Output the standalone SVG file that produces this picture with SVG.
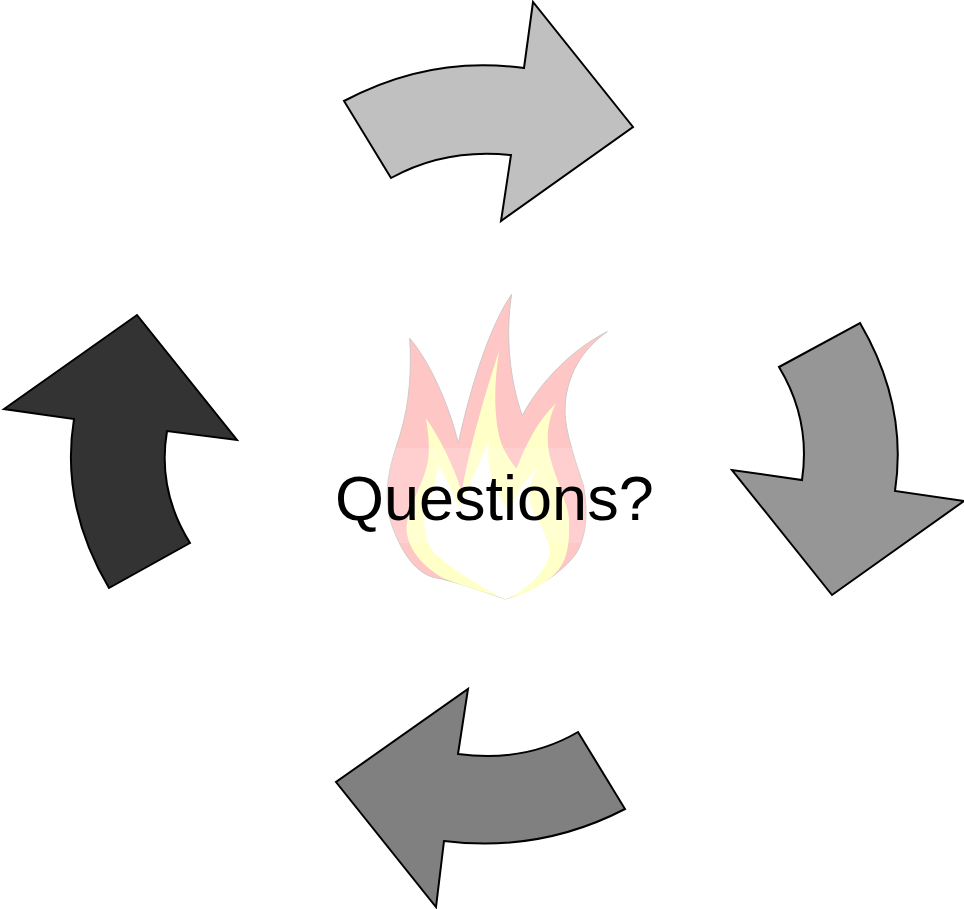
<svg xmlns="http://www.w3.org/2000/svg" width="964" height="909" viewBox="0 0 964 909">
<style>
.arrow{stroke:#000;stroke-width:2;stroke-linejoin:miter}
.label{font-family:"Liberation Sans",Arial,sans-serif;font-size:63px;fill:#000}
</style>
<rect width="964" height="909" fill="#fff"/>
<g id="flame">
<g transform="translate(370 285) scale(.33333)">
<path d="M119 160C175 225 235 350 265 475C300 310 360 120 425 28C405 150 420 290 457 392C510 290 610 190 712 140C640 190 585 270 585 380C585 440 620 540 640 600C655 680 650 760 615 810C560 880 470 925 405 942C340 920 260 890 190 877C130 860 90 790 65 720C35 620 60 540 90 450C120 350 125 250 119 160Z" fill="#ffc6c6" stroke="#d0c8c8" stroke-width="3"/>
<path d="M168 400C210 460 250 540 275 620C300 480 350 310 388 195C370 300 370 420 400 490C415 520 430 540 440 550C470 470 510 400 558 355C535 400 530 450 535 490C545 560 590 640 597 700C600 790 590 840 540 880C500 915 440 935 405 942C340 920 270 900 220 880C150 840 105 780 110 720C120 650 165 590 175 520C180 470 172 430 168 400Z" fill="#ffffc8"/>
<path d="M203 540C225 570 250 620 265 670C300 600 340 510 360 460C345 530 360 600 420 680C440 620 470 575 505 550C475 590 470 640 490 680C520 730 540 780 540 805C530 860 460 925 405 942C340 910 240 850 190 800C165 770 160 720 165 680C175 630 205 590 203 540Z" fill="#fff"/>
</g>
<rect x="380" y="448" width="210" height="95" fill="#fff" fill-opacity="0.15"/>
</g>
<g id="connectors">
<path id="arrow-top" class="arrow" fill="#c0c0c0" d="M344 101Q430 55 524 68L533 2L633 127L501 221L511 155Q445 148 391 178Z"/>
<path id="arrow-right" class="arrow" fill="#969696" d="M860 323Q908 405 895 491L964 501L832 595L732 470L802 480Q811 420 779 367Z"/>
<path id="arrow-bottom" class="arrow" fill="#808080" d="M625 809Q540 853 444 841L436 907L336 782L468 689L458 754Q525 763 578 732Z"/>
<path id="arrow-left" class="arrow" fill="#333333" d="M109 588Q60 505 74 419L4 409L137 315L237 440L167 431Q157 490 190 543Z"/>
</g>
<g id="label"><text class="label" x="335" y="520">Questions?</text></g>
</svg>
